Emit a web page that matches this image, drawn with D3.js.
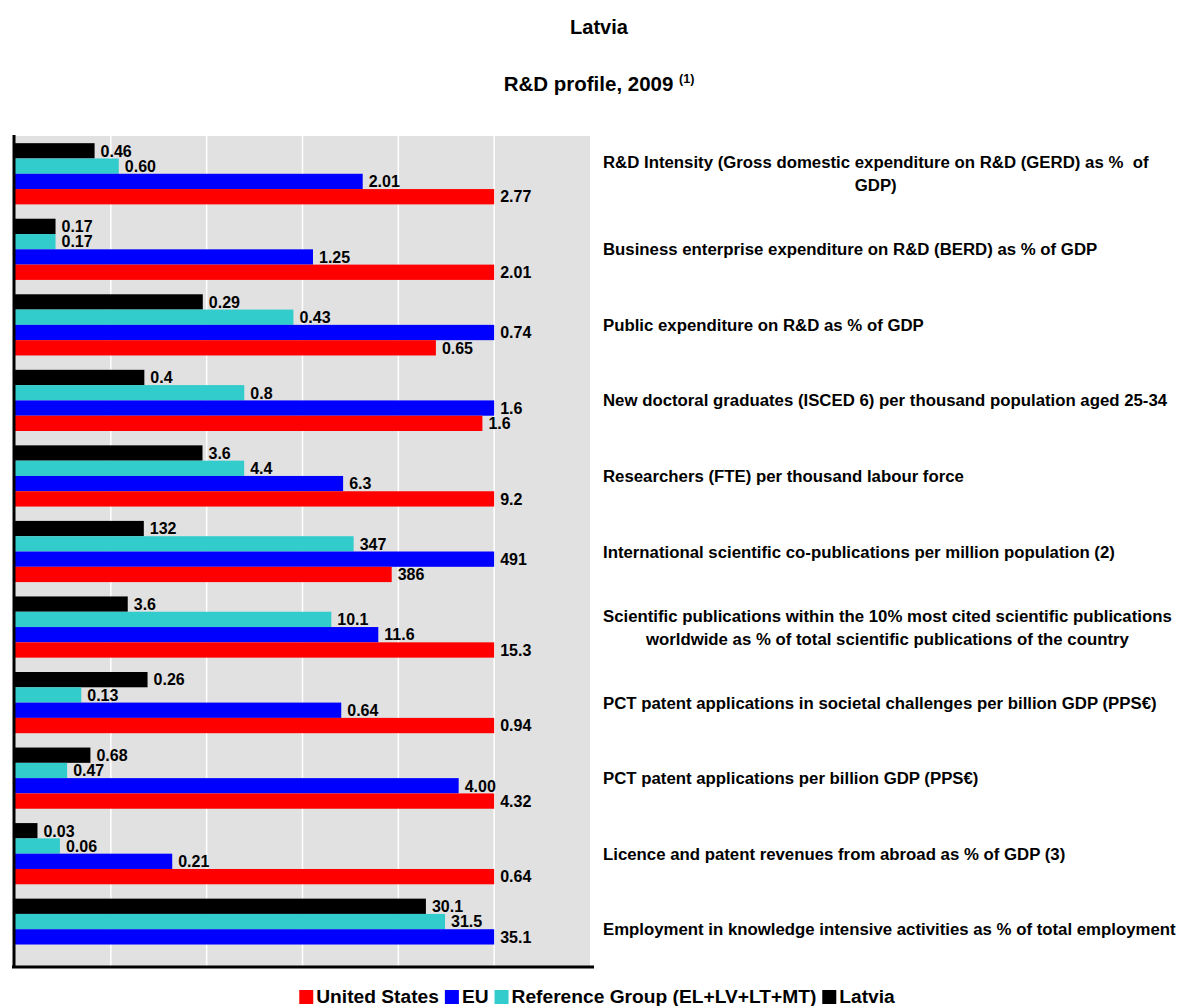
<!DOCTYPE html>
<html>
<head>
<meta charset="utf-8" />
<title>Latvia R&amp;D profile, 2009</title>
<script src="https://d3js.org/d3.v7.min.js" charset="utf-8"></script>
<style>
  body { margin: 0; background: #fff; }
  svg text { font-family: "Liberation Sans", Arial, sans-serif; font-weight: bold; fill: #000; }
</style>
</head>
<body>
<script>
// Indicators (top to bottom), each may span two lines
const categories = [
  ["R&D Intensity (Gross domestic expenditure on R&D (GERD) as %  of", "GDP)"],
  ["Business enterprise expenditure on R&D (BERD) as % of GDP"],
  ["Public expenditure on R&D as % of GDP"],
  ["New doctoral graduates (ISCED 6) per thousand population aged 25-34"],
  ["Researchers (FTE) per thousand labour force"],
  ["International scientific co-publications per million population (2)"],
  ["Scientific publications within the 10% most cited scientific publications", "worldwide as % of total scientific publications of the country"],
  ["PCT patent applications in societal challenges per billion GDP (PPS\u20ac)"],
  ["PCT patent applications per billion GDP (PPS\u20ac)"],
  ["Licence and patent revenues from abroad as % of GDP (3)"],
  ["Employment in knowledge intensive activities as % of total employment"]
];
// decimals shown in the value labels for each indicator
const decimals = [2, 2, 2, 1, 1, 0, 1, 2, 2, 2, 1];

const latvia   = [0.46, 0.17, 0.29, 0.44, 3.6, 132, 3.6, 0.26, 0.68, 0.03, 30.1];
const refGroup = [0.60, 0.17, 0.43, 0.78, 4.4, 347, 10.1, 0.13, 0.47, 0.06, 31.5];
const eu       = [2.01, 1.25, 0.74, 1.63, 6.3, 491, 11.6, 0.64, 4.00, 0.21, 35.1];
const us       = [2.77, 2.01, 0.65, 1.59, 9.2, 386, 15.3, 0.94, 4.32, 0.64, null];

const seriesNames = ["Latvia", "Reference Group (EL+LV+LT+MT)", "EU", "United States"];
const seriesValues = [latvia, refGroup, eu, us];
const seriesColors = ["#000000", "#33CCCC", "#0000FF", "#FF0000"];
const legendOrder = ["United States", "EU", "Reference Group (EL+LV+LT+MT)", "Latvia"];

const width = 1181, height = 1006;
const plot = { left: 15, right: 590, top: 136, bottom: 967 };

const svg = d3.select("body").append("svg")
  .attr("width", width)
  .attr("height", height);

// Titles
svg.append("text")
  .attr("x", 599).attr("y", 34)
  .attr("text-anchor", "middle")
  .attr("font-size", 20)
  .text("Latvia");

const sub = svg.append("text")
  .attr("x", 599).attr("y", 91)
  .attr("text-anchor", "middle")
  .attr("font-size", 20.5);
sub.append("tspan").text("R&D profile, 2009 ");
sub.append("tspan").attr("font-size", 12.5).attr("dy", -8).text("(1)");

// values are shown relative to the largest value of each indicator
const rows = categories.map((c, i) => {
  const vals = seriesValues.map(s => s[i]);
  const max = d3.max(vals);
  return {
    index: i,
    lines: c,
    bars: seriesNames.map((name, j) => ({
      name: name,
      value: vals[j],
      rel: vals[j] == null ? null : vals[j] / max,
      color: seriesColors[j],
      dec: decimals[i]
    }))
  };
});

const x = d3.scaleLinear().domain([0, 1.2]).range([plot.left, plot.right]);

const y = d3.scaleBand()
  .domain(rows.map(d => d.index))
  .range([plot.top, plot.bottom])
  .paddingInner(0.19)
  .paddingOuter(0.095);

const ySub = d3.scaleBand()
  .domain(seriesNames)
  .range([0, y.bandwidth()]);

// plot background
svg.append("rect")
  .attr("x", plot.left).attr("y", plot.top)
  .attr("width", plot.right - plot.left)
  .attr("height", plot.bottom - plot.top)
  .attr("fill", "#E1E1E1");

// vertical gridlines
svg.append("g")
  .selectAll("line")
  .data([0.2, 0.4, 0.6, 0.8, 1.0])
  .enter().append("line")
  .attr("x1", d => x(d)).attr("x2", d => x(d))
  .attr("y1", plot.top).attr("y2", plot.bottom)
  .attr("stroke", "#fff")
  .attr("stroke-width", 1.5);

// bars
const groups = svg.append("g")
  .selectAll("g")
  .data(rows)
  .enter().append("g")
  .attr("transform", d => `translate(0,${y(d.index)})`);

groups.selectAll("rect")
  .data(d => d.bars.filter(b => b.value != null))
  .enter().append("rect")
  .attr("x", x(0))
  .attr("y", b => ySub(b.name))
  .attr("width", b => x(b.rel) - x(0))
  .attr("height", ySub.bandwidth())
  .attr("fill", b => b.color);

groups.selectAll(".value")
  .data(d => d.bars.filter(b => b.value != null))
  .enter().append("text")
  .attr("class", "value")
  .attr("x", b => x(b.rel) + 6)
  .attr("y", b => ySub(b.name) + ySub.bandwidth() / 2)
  .attr("dy", "0.36em")
  .attr("font-size", 16)
  .text(b => b.value.toFixed(b.dec));

// axis lines
svg.append("line")
  .attr("x1", 14).attr("x2", 14)
  .attr("y1", plot.top - 1).attr("y2", plot.bottom + 1)
  .attr("stroke", "#000").attr("stroke-width", 3);
svg.append("line")
  .attr("x1", 12).attr("x2", 594)
  .attr("y1", plot.bottom).attr("y2", plot.bottom)
  .attr("stroke", "#000").attr("stroke-width", 3);

// indicator labels on the right
const labelX = 603;
const lineH = 23;
rows.forEach(r => {
  const cy = y(r.index) + y.bandwidth() / 2;
  const t = svg.append("text")
    .attr("font-size", 16.8)
    .attr("text-anchor", "middle")
    .style("white-space", "pre");
  const first = t.append("tspan").text(r.lines[0]);
  const w = first.node().getComputedTextLength();
  const cx = labelX + w / 2;
  const y0 = cy - (r.lines.length - 1) * lineH / 2;
  t.attr("y", y0).attr("dy", "0.36em");
  first.attr("x", cx);
  r.lines.slice(1).forEach(l => {
    t.append("tspan").attr("x", cx).attr("dy", lineH).text(l);
  });
});

// legend
const legend = svg.append("g");
let lx = 0;
legendOrder.forEach(name => {
  const j = seriesNames.indexOf(name);
  const item = legend.append("g").attr("transform", `translate(${lx},0)`);
  item.append("rect")
    .attr("x", 0).attr("y", -13)
    .attr("width", 14).attr("height", 14)
    .attr("fill", seriesColors[j]);
  const txt = item.append("text")
    .attr("x", 17).attr("y", 0)
    .attr("font-size", 19.2)
    .text(name);
  lx += 17 + txt.node().getComputedTextLength() + 6;
});
legend.attr("transform", `translate(${597 - (lx - 6) / 2},1003)`);
</script>
</body>
</html>
